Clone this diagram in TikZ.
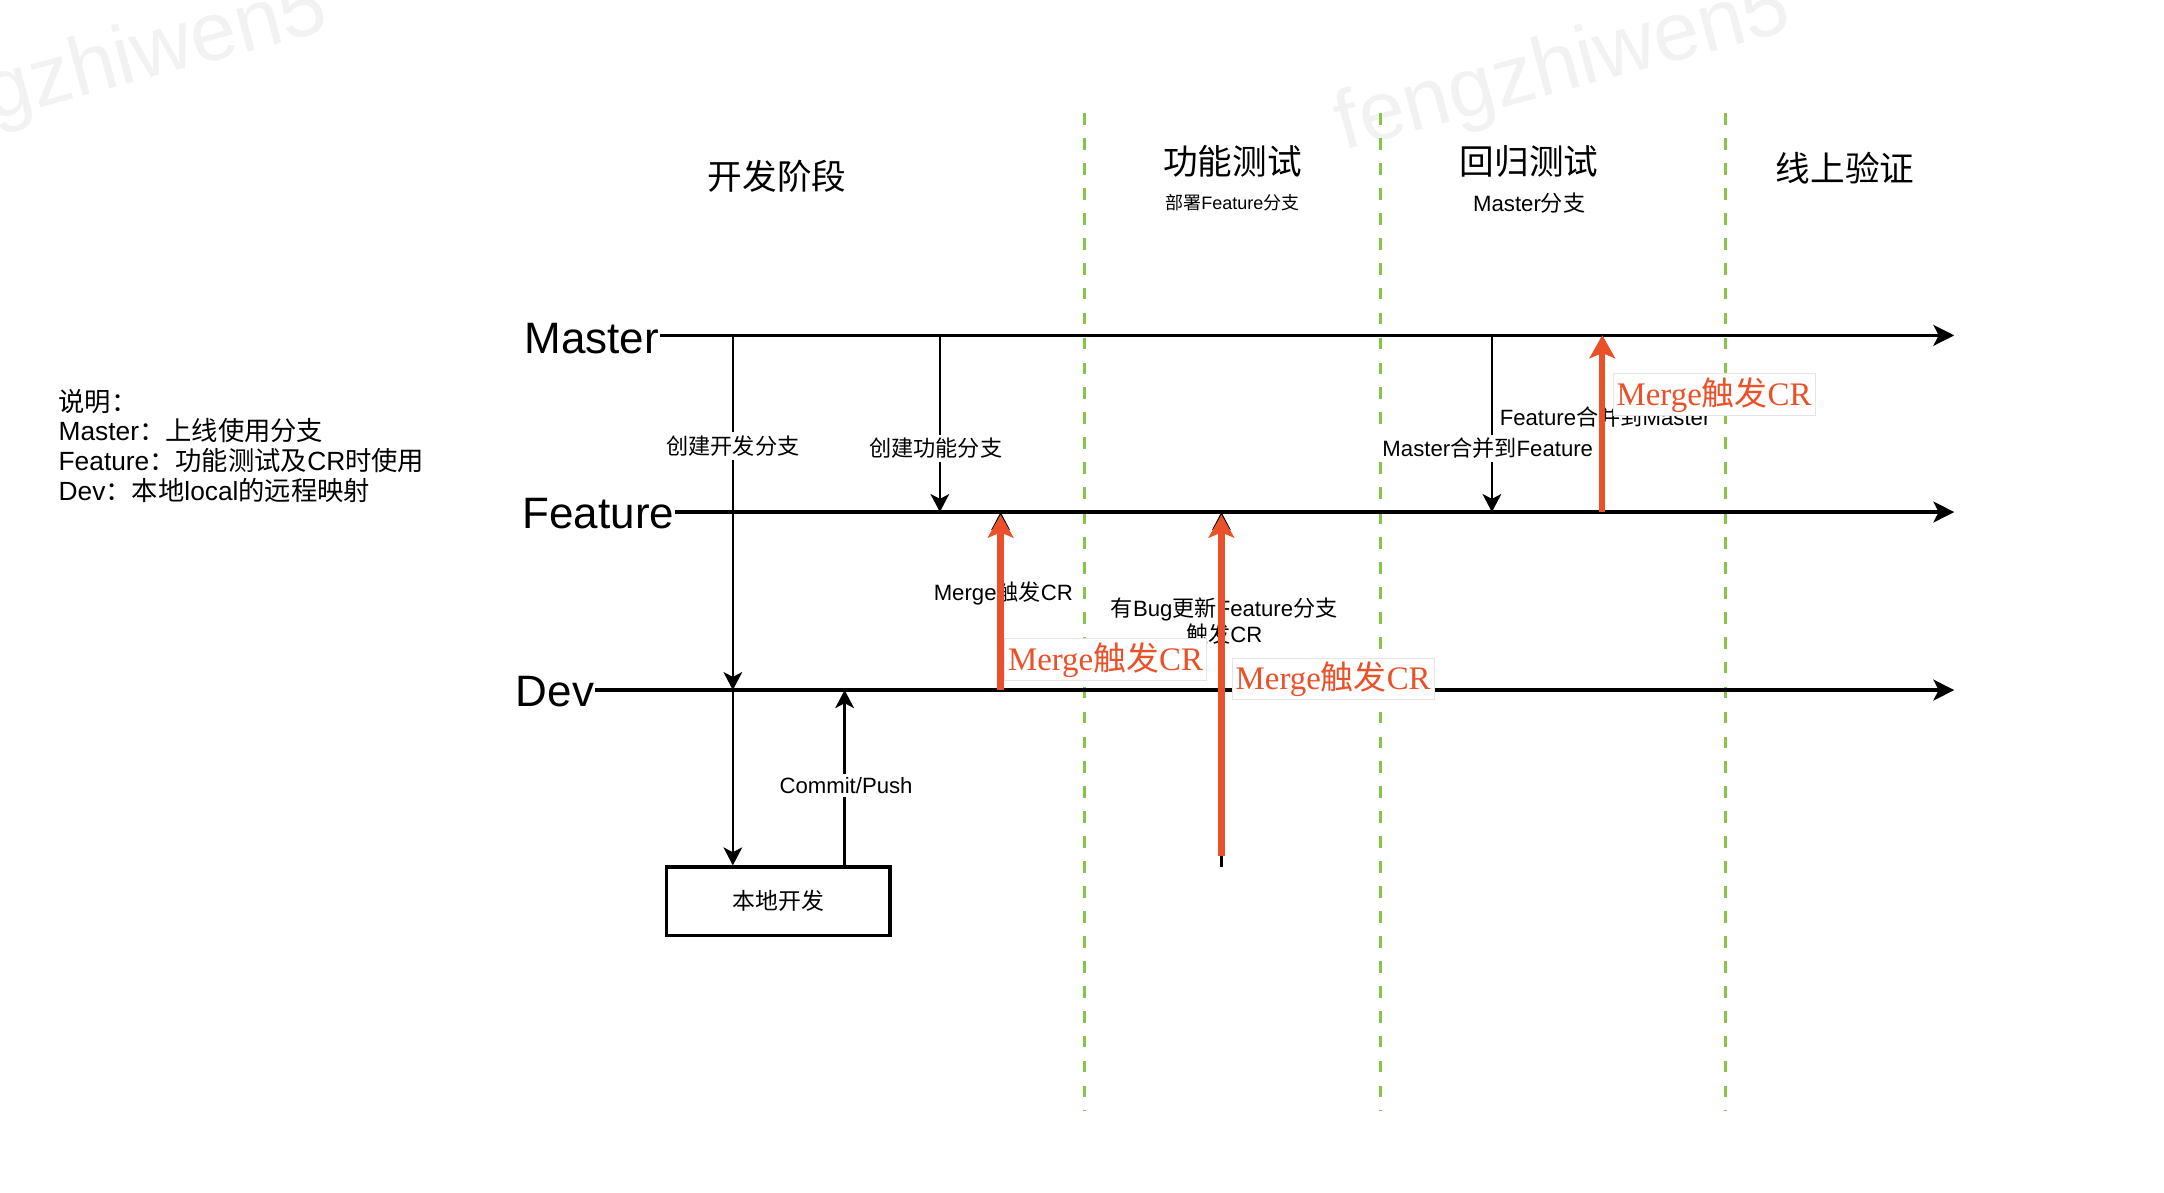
\documentclass[tikz,border=0pt]{standalone}
\usepackage{fontspec}
\setmainfont{Liberation Sans}
\newfontfamily\cjkfont{Noto Sans CJK SC}
\newfontfamily\serifred{Liberation Serif}
\newcommand{\zh}[1]{{\cjkfont #1}}
\usetikzlibrary{arrows.meta}
\definecolor{mergered}{RGB}{234,81,40}
\definecolor{stagegreen}{RGB}{134,196,72}
\tikzset{
  branch/.style={line width=1pt,-{Stealth[length=6pt,width=6pt,inset=1.5pt]}},
  flow/.style={line width=0.7pt,-{Stealth[length=5.2pt,width=5.4pt,inset=1.4pt]}},
  lbl/.style={fill=white,inner sep=1pt,font=\fontsize{6.4}{7.6}\selectfont},
  branchname/.style={inner sep=0pt,font=\fontsize{12.7}{15}\selectfont},
  stage/.style={inner sep=0pt,font=\fontsize{10}{12}\selectfont\cjkfont},
  stagenote/.style={inner sep=0pt,font=\fontsize{6.4}{7.6}\selectfont},
  stageline/.style={stagegreen,line width=0.9pt,dash pattern=on 3.4pt off 3.8pt},
  mergearrow/.style={mergered,line width=1.8pt,-{Stealth[length=6.6pt,width=7.4pt,inset=1.5pt]}},
  mergenote/.style={mergered,fill=white,draw=black!10,line width=0.3pt,inner sep=1pt,font=\fontsize{9.5}{11}\selectfont\serifred},
  watermark/.style={black!5,rotate=15,font=\fontsize{24}{28}\selectfont},
}
\begin{document}
\begin{tikzpicture}[x=0.014cm,y=-0.014cm]
\useasboundingbox (0,0) rectangle (1568,863.7);

% watermarks
\begin{scope}
  \clip (0,0) rectangle (1568,863.7);
  \node[watermark] (wmleft) at (73,50) {fengzhiwen5};
  \node[watermark] (wmmid) at (1133,50) {fengzhiwen5};
\end{scope}

% stage borders
\foreach \x in {786,1000,1250}
  \draw[stageline] (\x,82) -- (\x,805);

% stage titles
\node[stage] (devstage) at (563,128) {开发阶段};
\node[stage] (teststage) at (893,117) {功能测试};
\node[stagenote,font=\fontsize{5.2}{6.2}\selectfont] (testnote) at (893,147) {\zh{部署}Feature\zh{分支}};
\node[stage] (regstage) at (1108,117) {回归测试};
\node[stagenote] (regnote) at (1108,147) {Master\zh{分支}};
\node[stage] (onlinestage) at (1337,122) {线上验证};

% legend
\node[anchor=west,align=left,inner sep=0pt,font=\fontsize{7.6}{8.6}\selectfont] (legend) at (42,323)
  {\zh{说明：}\\Master\zh{：上线使用分支}\\Feature\zh{：功能测试及}CR\zh{时使用}\\Dev\zh{：本地}local\zh{的远程映射}};

% branches
\node[branchname,anchor=base east] (master) at (478,256) {Master};
\node[branchname,anchor=base east] (feature) at (489,383) {Feature};
\node[branchname,anchor=base east] (dev) at (431,512) {Dev};
\coordinate (mend) at (1416,243);
\coordinate (fend) at (1416,371);
\coordinate (dend) at (1416,500);
\draw[branch] (master.east |- mend) -- (mend);
\draw[branch] (feature.east |- fend) -- (fend);
\draw[branch] (dev.east |- dend) -- (dend);

% local box
\node[draw,line width=1pt,minimum width=64.5pt,minimum height=19.7pt,inner sep=0pt,
  font=\fontsize{6.6}{8}\selectfont\cjkfont] (local) at (564,653) {本地开发};

% black arrows
\coordinate (m1) at (531,243);
\coordinate (d1) at (531,500);
\coordinate (m2) at (681,243);
\coordinate (f2) at (681,371);
\coordinate (c1) at (612,500);
\coordinate (d3) at (725,500);
\coordinate (f3) at (725,371);
\coordinate (b4) at (885,628);
\coordinate (f4) at (885,371);
\coordinate (m5) at (1081,243);
\coordinate (f5) at (1081,371);
\coordinate (f6) at (1161,371);
\coordinate (m6) at (1161,243);
\draw[flow] (m1) -- (d1);
\draw[flow] (d1) -- (local.north -| d1);
\draw[flow] (local.north -| c1) -- (c1);
\draw[flow] (m2) -- (f2);
\draw[flow] (d3) -- (f3);
\draw[flow] (b4) -- (f4);
\draw[flow] (m5) -- (f5);
\draw[flow] (f6) -- (m6);

% labels
\node[lbl] (newdev) at (531,323) {\zh{创建开发分支}};
\node[lbl] (newfeat) at (678,325) {\zh{创建功能分支}};
\node[lbl] (commit) at (613,569) {Commit/Push};
\node[lbl] (mergecr) at (727,430) {Merge\zh{触发}CR};
\node[lbl,align=center,font=\fontsize{6.4}{7.5}\selectfont] (bugfix) at (887,450)
  {\zh{有}Bug\zh{更新}Feature\zh{分支}\\\zh{触发}CR};
\node[lbl] (m2f) at (1078,325) {Master\zh{合并到}Feature};
\node[lbl] (f2m) at (1163,302) {Feature\zh{合并到}Master};

% merge requests
\draw[mergearrow] (d3) -- ([yshift=-0.8pt]f3);
\draw[mergearrow] ([yshift=3pt]b4) -- ([yshift=-0.8pt]f4);
\draw[mergearrow] (f6) -- (m6);
\node[mergenote] (cr1) at (801,478) {Merge{\cjkfont 触发}CR};
\node[mergenote] (cr2) at (966,492) {Merge{\cjkfont 触发}CR};
\node[mergenote] (cr3) at (1242,286) {Merge{\cjkfont 触发}CR};
\end{tikzpicture}
\end{document}
